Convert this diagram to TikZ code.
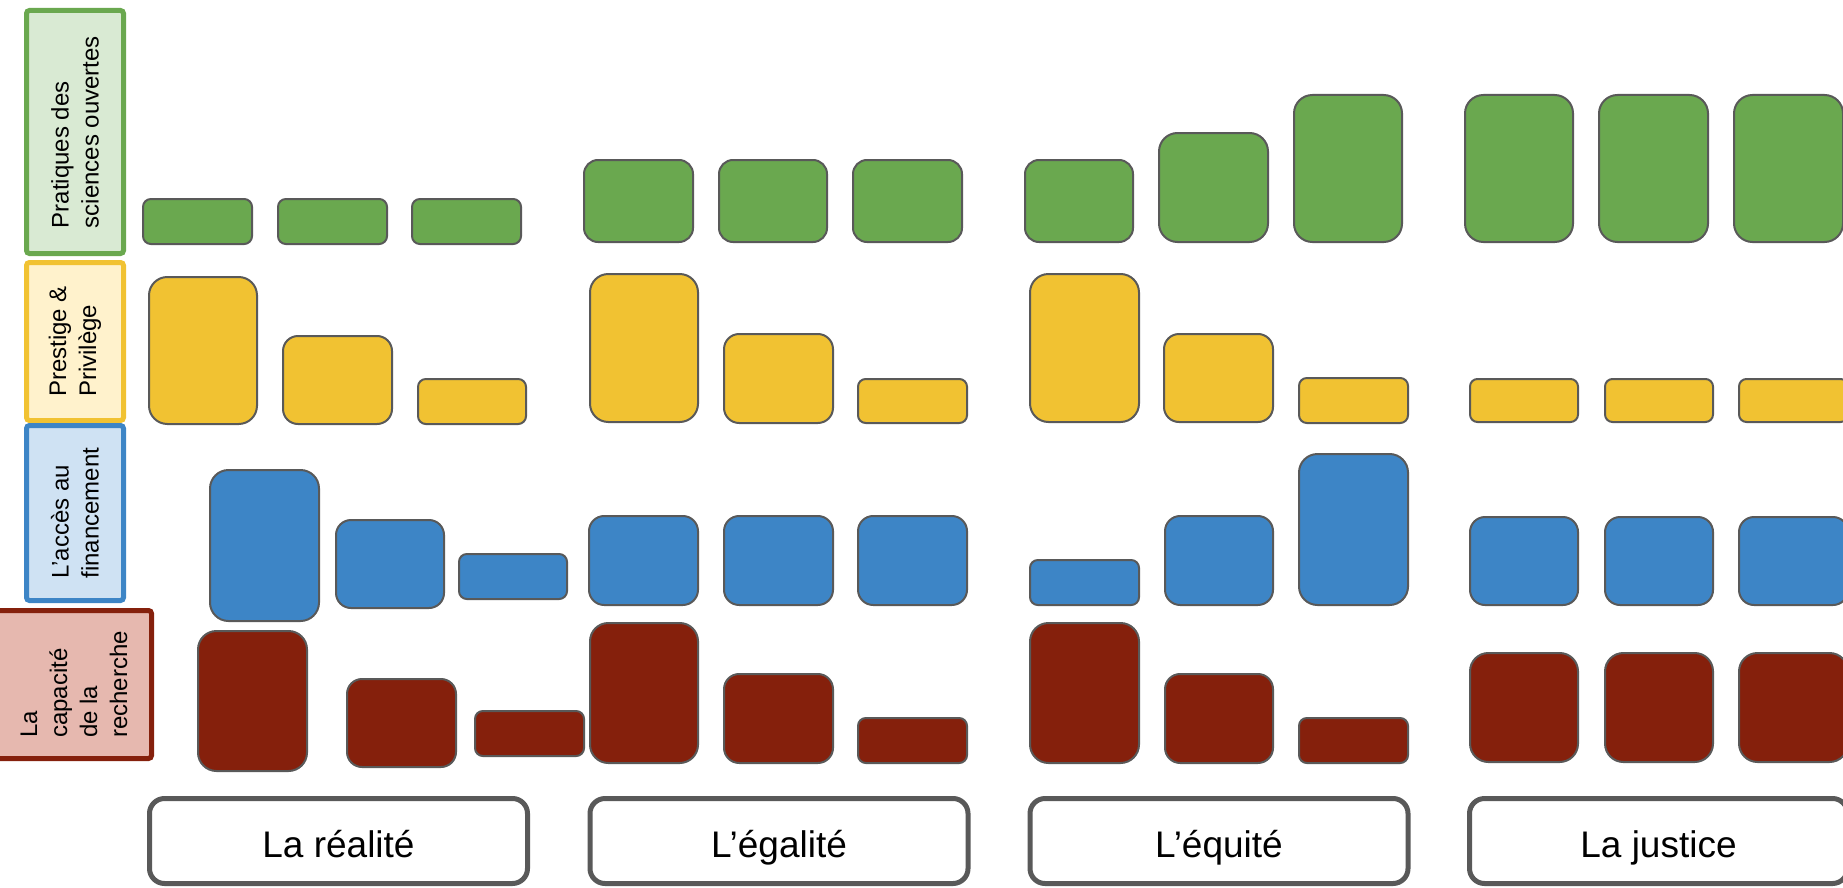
\documentclass[tikz,border=0pt]{standalone}
\usepackage{fontspec}
\setmainfont{Liberation Sans}
\usepackage{xcolor}
\definecolor{greenBar}{HTML}{6AA84F}
\definecolor{yellowBar}{HTML}{F1C232}
\definecolor{blueBar}{HTML}{3D85C6}
\definecolor{redBar}{HTML}{85200C}
\definecolor{greenTint}{HTML}{D9EAD3}
\definecolor{yellowTint}{HTML}{FFF2CC}
\definecolor{blueTint}{HTML}{CFE2F3}
\definecolor{redTint}{HTML}{E6B8AF}
\definecolor{edgeGray}{HTML}{595959}
\usetikzlibrary{positioning}

\begin{document}
\begin{tikzpicture}[
    x=1pt, y=-1pt,
    bar/.style={draw=edgeGray, line width=2pt},
    cat/.style={rotate=90, line width=5pt, rounded corners=3pt, inner sep=0pt,
        align=left, font=\fontsize{24}{30}\selectfont, minimum height=97pt},
    scene/.style={draw=edgeGray, line width=5pt, fill=white, rounded corners=15pt,
        minimum width=378pt, minimum height=85pt, text height=34pt, text depth=2pt,
        font=\fontsize{37}{44}\selectfont},
]
\useasboundingbox (0,0) rectangle (1843,888);

% Categories
\node[cat, draw=greenBar, fill=greenTint, minimum width=243pt] (open) at (75,132) {Pratiques des\\sciences ouvertes};
\node[cat, draw=yellowBar, fill=yellowTint, minimum width=158pt] (prestige) at (75,341.5) {Prestige \&\\Privilège};
\node[cat, draw=blueBar, fill=blueTint, minimum width=175pt] (funding) at (75,513) {L’accès au\\financement};
\node[cat, draw=redBar, fill=redTint, minimum width=148pt, minimum height=155pt] (capacity) at (74,684.5) {La\\capacité\\de la\\recherche};

% Open science
\foreach \xa/\ya/\xb/\yb in {142/198/253/245, 277/198/388/245, 411/198/522/245,
    583/159/694/243, 718/159/828/243, 852/159/963/243,
    1024/159/1134/243, 1158/132/1269/243, 1293/94/1403/243,
    1464/94/1574/243, 1598/94/1709/243, 1733/94/1844/243} {
  \pgfmathsetmacro\rad{min(\xb-\xa,\yb-\ya)/6}
  \draw[bar, fill=greenBar, rounded corners=\rad pt] (\xa+1,\ya+1) rectangle (\xb-1,\yb-1);
}

% Prestige
\foreach \xa/\ya/\xb/\yb in {148/276/258/425, 282/335/393/425, 417/378/527/425,
    589/273/699/423, 723/333/834/424, 857/378/968/424,
    1029/273/1140/423, 1163/333/1274/423, 1298/377/1409/424,
    1469/378/1579/423, 1604/378/1714/423, 1738/378/1849/423} {
  \pgfmathsetmacro\rad{min(\xb-\xa,\yb-\ya)/6}
  \draw[bar, fill=yellowBar, rounded corners=\rad pt] (\xa+1,\ya+1) rectangle (\xb-1,\yb-1);
}

% Funding
\foreach \xa/\ya/\xb/\yb in {209/469/320/622, 335/519/445/609, 458/553/568/600,
    588/515/699/606, 723/515/834/606, 857/515/968/606,
    1029/559/1140/606, 1164/515/1274/606, 1298/453/1409/606,
    1469/516/1579/606, 1604/516/1714/606, 1738/516/1849/606} {
  \pgfmathsetmacro\rad{min(\xb-\xa,\yb-\ya)/6}
  \draw[bar, fill=blueBar, rounded corners=\rad pt] (\xa+1,\ya+1) rectangle (\xb-1,\yb-1);
}

% Research capacity
\foreach \xa/\ya/\xb/\yb in {197/630/308/772, 346/678/457/768, 474/710/585/757,
    589/622/699/764, 723/673/834/764, 857/717/968/764,
    1029/622/1140/764, 1164/673/1274/764, 1298/717/1409/764,
    1469/652/1579/763, 1604/652/1714/763, 1738/652/1849/763} {
  \pgfmathsetmacro\rad{min(\xb-\xa,\yb-\ya)/6}
  \draw[bar, fill=redBar, rounded corners=\rad pt] (\xa+1,\ya+1) rectangle (\xb-1,\yb-1);
}

% Scenes
\node[scene] (reality) at (338.5,841) {La réalité};
\node[scene] (equality) at (779,841) {L’égalité};
\node[scene] (equity) at (1219,841) {L’équité};
\node[scene] (justice) at (1658.5,841) {La justice};

\end{tikzpicture}
\end{document}
